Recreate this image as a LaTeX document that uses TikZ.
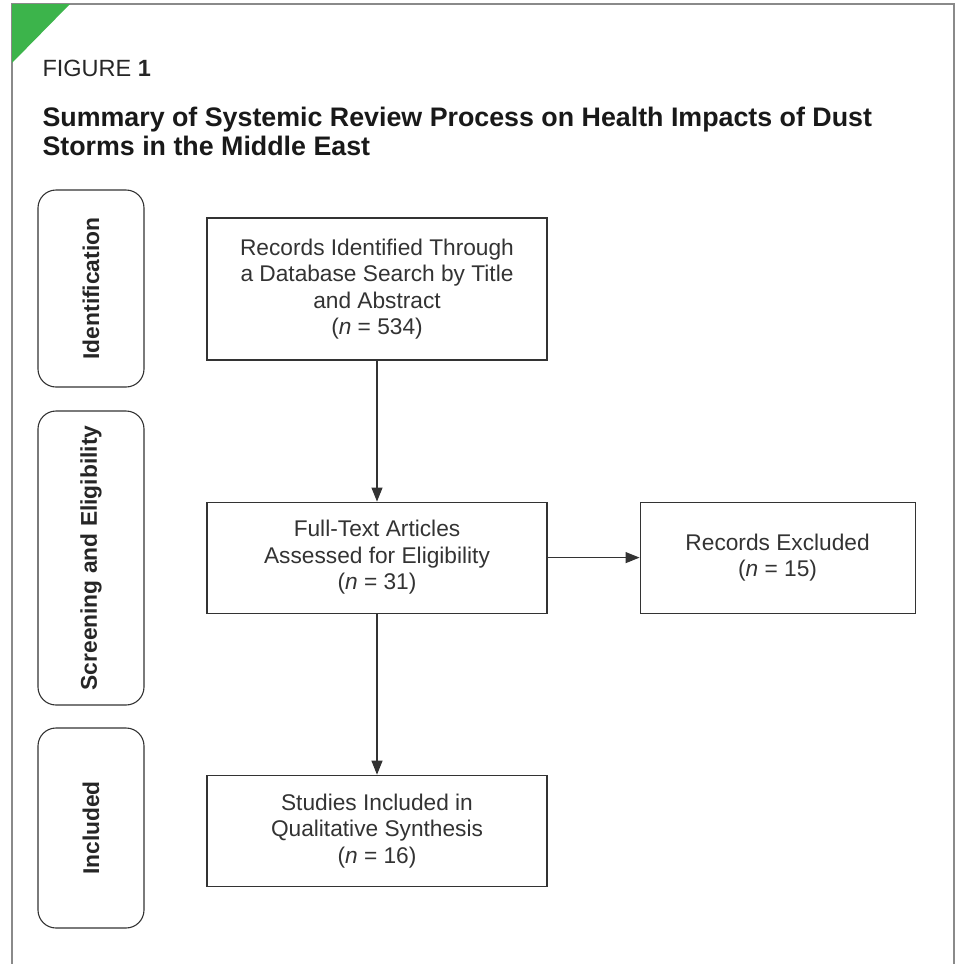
\documentclass[tikz,border=0pt]{standalone}
\usepackage{fontspec}
\setmainfont{Liberation Sans}
\usetikzlibrary{arrows.meta, positioning}
\definecolor{figgreen}{HTML}{3CB44B}
\definecolor{inkgray}{HTML}{333333}
\definecolor{framegray}{HTML}{8A8A8A}

\begin{document}
\begin{tikzpicture}[
    x=1pt, y=-1pt,
    node distance=141pt and 92pt,
    every node/.style={font=\fontsize{22.7}{26.5}\selectfont, text=inkgray},
    box/.style={rectangle, draw=inkgray, line width=1.1pt, align=center, inner sep=0pt,
                minimum width=340pt, minimum height=111pt},
    stage/.style={rectangle, rounded corners=18pt, draw=inkgray, line width=1.1pt, rotate=90,
                  minimum height=106pt, inner sep=0pt, text=black!85,
                  font=\bfseries\fontsize{22.8}{26}\selectfont},
    arrow/.style={-{Triangle[length=14pt, width=11pt]}, draw=inkgray, line width=1.1pt}
  ]
  \useasboundingbox (0,0) rectangle (957,964);

  % frame and corner mark
  \draw[framegray, line width=1.2pt] (12,964) -- (12,4) -- (954,4) -- (954,964);
  \fill[figgreen] (12,4) -- (70,4) -- (12,63) -- cycle;

  \node[anchor=base west, text=black!85, font=\fontsize{23.5}{28}\selectfont] (figno) at (39,76) {FIGURE \textbf{1}};
  \node[anchor=base west, text=black!90, align=left, font=\bfseries\fontsize{26.8}{29}\selectfont] (title) at (39,155)
    {Summary of Systemic Review Process on Health Impacts of Dust\\Storms in the Middle East};

  % stages
  \node[stage, minimum width=197pt] (ident) at (91,288.5) {Identification};
  \node[stage, minimum width=294pt] (screen) at (91,558) {Screening and Eligibility};
  \node[stage, minimum width=200pt] (incl) at (91,828) {Included};

  % flow
  \node[box, minimum height=142pt] (records) at (377,289)
    {Records Identified Through\\a Database Search by Title\\and Abstract\\(\textit{n} = 534)};
  \node[box, below=of records] (fulltext)
    {Full-Text Articles\\Assessed for Eligibility\\(\textit{n} = 31)};
  \node[box, right=of fulltext, minimum width=275pt] (excluded)
    {Records Excluded\\(\textit{n} = 15)};
  \node[box, below=161pt of fulltext] (included)
    {Studies Included in\\Qualitative Synthesis\\(\textit{n} = 16)};

  \draw[arrow] (records) -- (fulltext);
  \draw[arrow] (fulltext) -- (excluded);
  \draw[arrow] (fulltext) -- (included);

\end{tikzpicture}
\end{document}
